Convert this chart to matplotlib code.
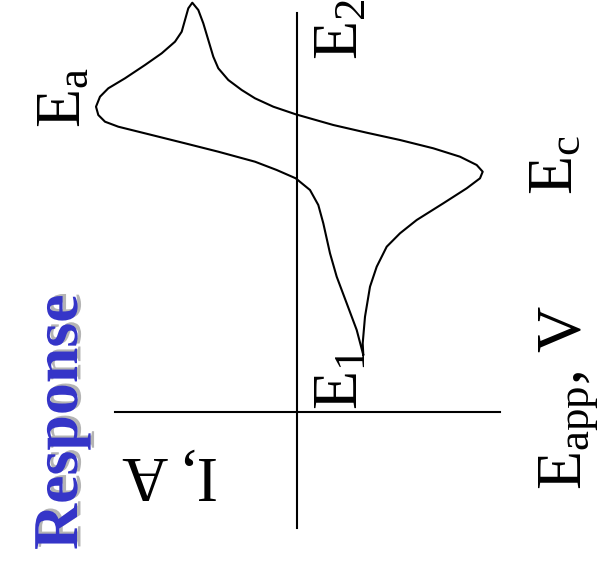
import numpy as np
import matplotlib
matplotlib.use('Agg')
import matplotlib.pyplot as plt
import matplotlib.patheffects as pe

plt.rcParams['font.family'] = ['Liberation Serif', 'DejaVu Serif']
plt.rcParams['mathtext.fontset'] = 'custom'
plt.rcParams['mathtext.rm'] = 'Liberation Serif'
plt.rcParams['mathtext.it'] = 'Liberation Serif:italic'

# cyclic voltammogram, current (horizontal) vs applied potential (vertical)
current = [66.3, 65.7, 68.0, 73.0, 79.7, 89.7, 103.0, 119.7, 146.3, 169.7,
           183.0, 185.7, 179.7, 163.0, 136.3, 103.0, 69.7, 36.3, -1.3, -23.7,
           -42.0, -55.3, -68.7, -78.7, -83.7, -88.7, -93.7, -98.7, -104.7,
           -108.7, -112.0, -115.3, -122.0, -135.3, -152.0, -172.0, -188.7,
           -197.0, -201.0, -198.7, -192.0, -178.7, -145.3, -112.0, -78.7,
           -42.0, -20.3, -1.3, 13.0, 21.3, 26.3, 33.0, 39.7, 49.7, 59.7, 66.3]
potential = [58.0, 69.7, 96.3, 126.3, 146.3, 166.3, 179.7, 193.0, 209.7,
             224.7, 234.7, 241.3, 248.0, 256.3, 264.7, 273.0, 280.3, 288.0,
             298.7, 306.3, 314.7, 323.0, 333.0, 344.7, 356.3, 373.0, 389.7,
             403.0, 410.3, 404.7, 393.0, 381.3, 371.3, 359.7, 348.0, 334.7,
             324.7, 316.3, 306.3, 298.0, 291.3, 286.3, 278.0, 269.7, 261.3,
             251.3, 243.0, 234.7, 223.0, 208.0, 189.7, 159.7, 136.3, 109.7,
             83.0, 58.0]

fig = plt.figure(figsize=(6.03, 5.63), dpi=100)
ax = fig.add_axes([0, 0, 1, 1])
ax.set_xlim(-297, 306)
ax.set_ylim(-150, 413)
ax.axis('off')

# axes through the origin
ax.plot([0, 0], [-115, 400], color='black', lw=1.5)
ax.plot([-182, 203], [1, 1], color='black', lw=1.5)

ax.plot(current, potential, color='black', lw=1.5,
        solid_joinstyle='round', solid_capstyle='round')

kw = dict(rotation=90, rotation_mode='anchor', ha='left', va='baseline',
          fontsize=46)
ax.text(-217, 285, r'E$_\mathrm{a}$', **kw)
ax.text(60, 353, r'E$_\mathrm{2}$', **kw)
ax.text(60, 3, r'E$_\mathrm{1}$', **kw)
ax.text(275, 218, r'E$_\mathrm{c}$', **kw)
ax.text(283, -77, r'E$_\mathrm{app}$, V', **kw)

ax.text(-79, -44, 'I, A', rotation=180, rotation_mode='anchor',
        ha='left', va='baseline', fontsize=46)

ax.text(-220, -137, 'Response', rotation=90, rotation_mode='anchor',
        ha='left', va='baseline', fontsize=46, fontweight='bold',
        color='#3535c8',
        path_effects=[pe.SimplePatchShadow(offset=(2.5, 1.5),
                                           shadow_rgbFace='#b4b4b4', alpha=1),
                      pe.Normal()])

fig.savefig('out.png', dpi=100)
